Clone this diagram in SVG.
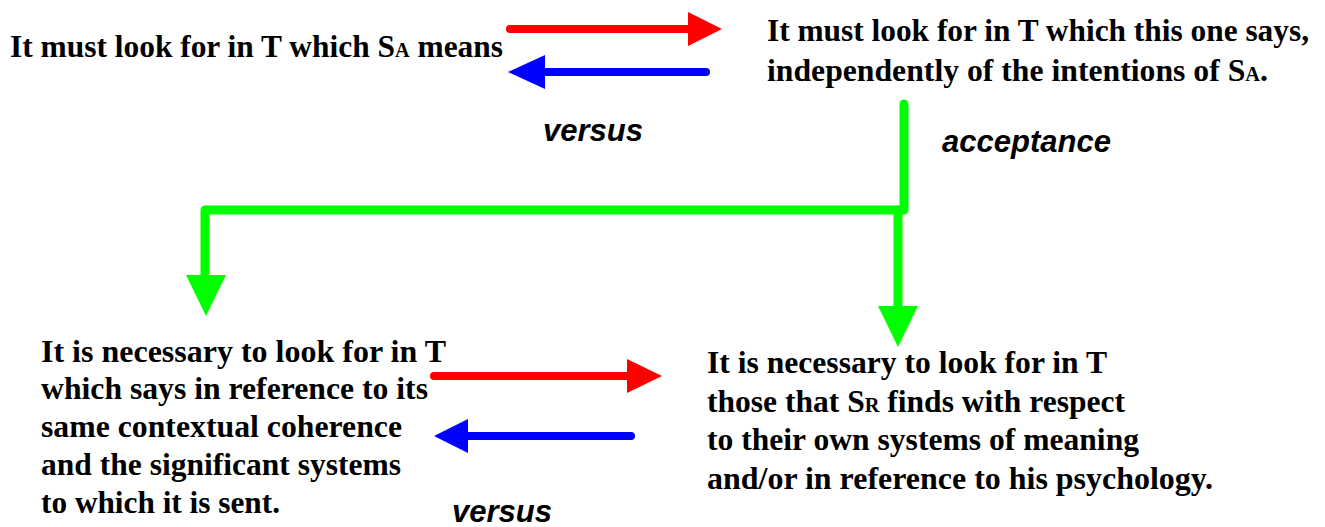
<svg xmlns="http://www.w3.org/2000/svg" width="1325" height="527" viewBox="0 0 1325 527">
  <style>
    .t { font-family: 'Liberation Serif', 'Times New Roman', Times, serif; font-weight: 700; font-size: 31px; fill: #000; }
    .sub { font-size: 20px; }
    .lbl { font-family: 'Liberation Sans', Arial, sans-serif; font-weight: 700; font-style: italic; font-size: 31px; fill: #000; }
    .red { stroke: #ff0000; stroke-width: 8; stroke-linecap: round; fill: none; }
    .blue { stroke: #0000ff; stroke-width: 8; stroke-linecap: round; fill: none; }
    .green { stroke: #00ff00; stroke-width: 9; stroke-linecap: round; stroke-linejoin: round; fill: none; }
  </style>
  <rect width="1325" height="527" fill="#ffffff"/>

  <g id="connectors">
    <!-- top pair: forward (red) and back (blue) -->
    <line class="red" x1="510" y1="29" x2="690" y2="29"/>
    <polygon points="688,12 722,29 688,46" fill="#ff0000"/>
    <line class="blue" x1="706" y1="72" x2="540" y2="72"/>
    <polygon points="545,55 508,72 545,89" fill="#0000ff"/>
    <!-- acceptance branch splitting to both lower statements -->
    <path class="green" d="M904,104 V210 H205 V280"/>
    <line class="green" x1="898" y1="210" x2="898" y2="312"/>
    <polygon points="186,275 226,275 206,316" fill="#00ff00"/>
    <polygon points="878,306 918,306 898,347" fill="#00ff00"/>
    <!-- bottom pair -->
    <line class="red" x1="434" y1="376" x2="630" y2="376"/>
    <polygon points="627,359 662,376 627,393" fill="#ff0000"/>
    <line class="blue" x1="631" y1="436" x2="465" y2="436"/>
    <polygon points="468,419 434,436 468,453" fill="#0000ff"/>
  </g>

  <g id="node-author-meaning">
    <text class="t" x="10" y="57" textLength="493" lengthAdjust="spacingAndGlyphs">It must look for in T which S<tspan class="sub">A</tspan> means</text>
  </g>

  <g id="node-text-says">
    <text class="t" x="767" y="41" textLength="542" lengthAdjust="spacingAndGlyphs">It must look for in T which this one says,</text>
    <text class="t" x="767" y="81" textLength="501" lengthAdjust="spacingAndGlyphs">independently of the intentions of S<tspan class="sub">A</tspan>.</text>
  </g>

  <g id="label-versus-top">
    <text class="lbl" x="543" y="141">versus</text>
  </g>
  <g id="label-acceptance">
    <text class="lbl" x="942" y="152">acceptance</text>
  </g>

  <g id="node-contextual">
    <text class="t" x="41" y="362" textLength="405" lengthAdjust="spacingAndGlyphs">It is necessary to look for in T</text>
    <text class="t" x="41" y="399" textLength="387" lengthAdjust="spacingAndGlyphs">which says in reference to its</text>
    <text class="t" x="41" y="437" textLength="361" lengthAdjust="spacingAndGlyphs">same contextual coherence</text>
    <text class="t" x="41" y="475" textLength="360" lengthAdjust="spacingAndGlyphs">and the significant systems</text>
    <text class="t" x="41" y="513" textLength="239" lengthAdjust="spacingAndGlyphs">to which it is sent.</text>
  </g>

  <g id="node-receiver">
    <text class="t" x="707" y="373" textLength="400" lengthAdjust="spacingAndGlyphs">It is necessary to look for in T</text>
    <text class="t" x="707" y="412" textLength="418" lengthAdjust="spacingAndGlyphs">those that S<tspan class="sub">R</tspan> finds with respect</text>
    <text class="t" x="707" y="450" textLength="432" lengthAdjust="spacingAndGlyphs">to their own systems of meaning</text>
    <text class="t" x="707" y="489" textLength="506" lengthAdjust="spacingAndGlyphs">and/or in reference to his psychology.</text>
  </g>

  <g id="label-versus-bottom">
    <text class="lbl" x="452" y="522">versus</text>
  </g>
</svg>
